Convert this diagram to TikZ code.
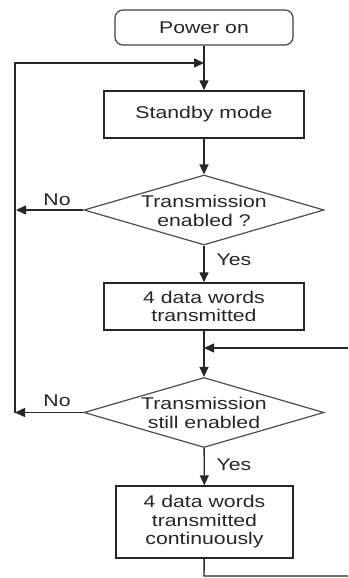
\documentclass[tikz,border=0pt]{standalone}
\usepackage{fontspec}
\setmainfont{Liberation Sans}[FakeStretch=1.25]
\usetikzlibrary{arrows.meta,shapes.geometric}
\begin{document}
\begin{tikzpicture}[x=1pt,y=1pt,
  every node/.style={font=\fontsize{17}{18.5}\selectfont, text=black!85},
  box/.style={draw=black!85, line width=1.4pt, minimum width=200pt, minimum height=47pt, inner sep=0pt, align=center},
  startbox/.style={draw=black!75, line width=1.2pt, rounded corners=8pt, minimum width=178pt, minimum height=35pt, inner sep=0pt},
  decision/.style={draw=black!70, line width=1.2pt, diamond, minimum width=240pt, minimum height=70pt, inner sep=0pt},
  dtext/.style={align=center, inner sep=0pt},
  flow/.style={draw=black!85, line width=1.4pt},
  arr/.style={flow, -{Triangle[length=10pt,width=9pt]}},
  lbl/.style={inner sep=0pt}
]
\useasboundingbox (0,0) rectangle (348,-578);

% process steps
\node[startbox] (power) at (204,-27.5) {Power on};
\node[box] (standby) at (204,-114.5) {Standby mode};
\node[decision] (d1) at (204,-210) {};
\node[dtext] (d1t) at (204,-211) {Transmission\\enabled ?};
\node[box] (send) at (204,-306.5) {4 data words\\transmitted};
\node[decision] (d2) at (204,-412.5) {};
\node[dtext] (d2t) at (204,-413) {Transmission\\still enabled};
\node[box, minimum width=177pt, minimum height=72pt] (cont) at (204.5,-522) {4 data words\\transmitted\\continuously};

% helper points of the loops
\coordinate (top) at (204,-63);
\coordinate (leftTop) at (15,-63);
\coordinate (left1) at (16,-210);
\coordinate (left2) at (15,-412.5);
\coordinate (merge) at (204,-348);
\coordinate (rightIn) at (348,-348);
\coordinate (bottom) at (204,-576);
\coordinate (rightOut) at (348,-576);

% main flow
\draw[arr] (power) -- (standby);
\draw[arr] (standby) -- (d1);
\draw[arr] (d1) -- (send);
\draw[arr] (send) -- (d2);
\draw[arr] (d2) -- (cont);

% "No" branches back to standby
\draw[arr] (d1.west) -- (left1);
\draw[arr] (d2.west) -- (left2);
\draw[arr] (left2) -- (leftTop) -- (top);

% continuous transmission loop
\draw[flow] (cont) -- (bottom) -- (rightOut);
\draw[arr] (rightIn) -- (merge);

% branch labels
\node[lbl] (no1) at (57,-200) {No};
\node[lbl] (no2) at (57,-401) {No};
\node[lbl] (yes1) at (234,-260) {Yes};
\node[lbl] (yes2) at (234,-465) {Yes};
\end{tikzpicture}
\end{document}
